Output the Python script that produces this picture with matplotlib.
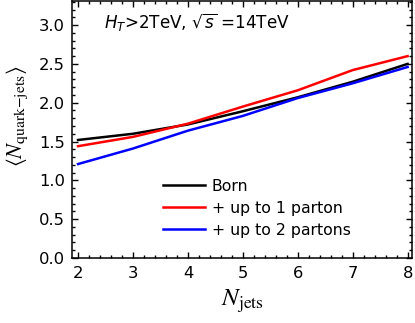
import matplotlib
matplotlib.use("Agg")
import matplotlib.pyplot as plt
from matplotlib.ticker import MultipleLocator

njets = [2, 3, 4, 5, 6, 7, 8]
born = [1.52, 1.60, 1.72, 1.89, 2.07, 2.27, 2.50]
up1 = [1.44, 1.56, 1.73, 1.95, 2.16, 2.42, 2.60]
up2 = [1.21, 1.41, 1.64, 1.83, 2.06, 2.25, 2.46]
labels = ["Born", "+ up to 1 parton", "+ up to 2 partons"]

plt.rcParams['font.family'] = ['DejaVu Sans']
plt.rcParams['font.size'] = 11.3

fig = plt.figure(figsize=(4.15, 3.23), dpi=100)
ax = fig.add_axes([72/415, 65/323, 340/415, 257/323])

ax.plot(njets, born, color='black', lw=1.8, label=labels[0])
ax.plot(njets, up1, color='#ff0000', lw=1.8, label=labels[1])
ax.plot(njets, up2, color='#0000ff', lw=1.8, label=labels[2])

ax.set_xlim(1.89, 8.08)
ax.set_ylim(0, 3.31)
ax.xaxis.set_major_locator(MultipleLocator(1))
ax.xaxis.set_minor_locator(MultipleLocator(0.2))
ax.yaxis.set_major_locator(MultipleLocator(0.5))
ax.yaxis.set_minor_locator(MultipleLocator(0.1))
ax.yaxis.set_major_formatter(matplotlib.ticker.FormatStrFormatter('%.1f'))
ax.tick_params(which='both', direction='in', top=True, right=True, width=1.0)
ax.tick_params(which='major', length=4, labelsize=11.8)
ax.tick_params(axis='x', which='major', pad=6)
ax.tick_params(axis='y', which='major', pad=5)
ax.tick_params(which='minor', length=2.2)
for s in ax.spines.values():
    s.set_linewidth(1.1)

ax.set_xlabel(r'$N_{\mathrm{jets}}$', fontsize=18, math_fontfamily='stix', labelpad=5)
ax.set_ylabel(r'$\langle N_{\mathrm{quark}{-}\mathrm{jets}}\rangle$', fontsize=16,
              math_fontfamily='stix')
ax.yaxis.set_label_coords(-0.125, 0.55)

ax.text(0.095, 0.89, r'$H_T$>2TeV, $\sqrt{s}$ =14TeV', transform=ax.transAxes,
        fontsize=12.1, math_fontfamily='dejavusans', va='baseline')

ax.legend(loc='lower left', bbox_to_anchor=(0.268, 0.079), frameon=False,
          handlelength=2.66, handletextpad=0.45, labelspacing=0.45,
          borderpad=0, borderaxespad=0, fontsize=11.3)

fig.savefig('out.png', dpi=100)
